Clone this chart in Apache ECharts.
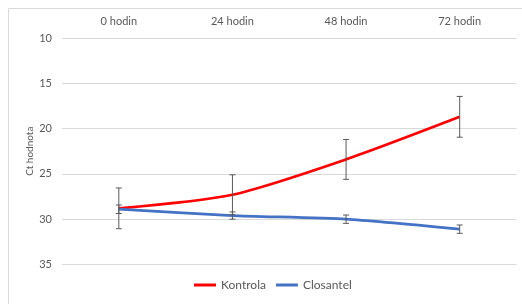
<!DOCTYPE html>
<html>
<head>
<meta charset="utf-8">
<script src="https://cdn.jsdelivr.net/npm/echarts@6/dist/echarts.min.js"></script>
<style>
html,body{margin:0;padding:0;background:#fff;}
#chart{width:522px;height:304px;}
</style>
</head>
<body>
<div id="chart"></div>
<script>
var categories = ['0 hodin', '24 hodin', '48 hodin', '72 hodin'];
var kontrolaValues = [28.8, 27.3, 23.4, 18.7];
var kontrolaErrors = [2.25, 2.2, 2.2, 2.25];
var closantelValues = [28.9, 29.6, 30.0, 31.1];
var closantelErrors = [0.47, 0.4, 0.46, 0.46];
var yTicks = [10, 15, 20, 25, 30, 35];

var FONT = 'Lato, "Open Sans", sans-serif';
var TXT = '#595959';

function errData(vals, errs) {
  return vals.map(function (v, i) { return [i, v - errs[i], v + errs[i]]; });
}
function errRender(params, api) {
  var x = api.value(0);
  var lo = api.coord([x, api.value(1)]);
  var hi = api.coord([x, api.value(2)]);
  var cap = 3;
  var st = { stroke: '#595959', lineWidth: 1 };
  return {
    type: 'group',
    children: [
      { type: 'line', shape: { x1: lo[0], y1: lo[1], x2: hi[0], y2: hi[1] }, style: st },
      { type: 'line', shape: { x1: lo[0] - cap, y1: lo[1], x2: lo[0] + cap, y2: lo[1] }, style: st },
      { type: 'line', shape: { x1: hi[0] - cap, y1: hi[1], x2: hi[0] + cap, y2: hi[1] }, style: st }
    ]
  };
}

var chart = echarts.init(document.getElementById('chart'), null, { renderer: 'canvas' });
chart.setOption({
  animation: false,
  backgroundColor: '#fff',
  graphic: [{
    type: 'rect', silent: true,
    shape: { x: 8.5, y: 8.5, width: 530, height: 310 },
    style: { fill: 'none', stroke: '#d9d9d9', lineWidth: 1 }
  }],
  grid: { left: 62, right: 5.5, top: 38, bottom: 39.5, containLabel: false },
  legend: {
    data: ['Kontrola', 'Closantel'],
    bottom: 8,
    left: 189,
    icon: 'rect',
    itemWidth: 22,
    itemHeight: 3,
    itemGap: 10,
    textStyle: { fontFamily: FONT, fontSize: 12, color: TXT }
  },
  xAxis: {
    type: 'category',
    data: categories,
    position: 'top',
    boundaryGap: true,
    axisLine: { show: false },
    axisTick: { show: false },
    axisLabel: { fontFamily: FONT, fontSize: 11, color: TXT, margin: 11 }
  },
  yAxis: {
    type: 'value',
    inverse: true,
    min: yTicks[0],
    max: yTicks[yTicks.length - 1],
    interval: yTicks[1] - yTicks[0],
    name: 'Ct hodnota',
    nameLocation: 'middle',
    nameGap: 27,
    nameMoveOverlap: false,
    nameTextStyle: { fontFamily: FONT, fontSize: 10, color: TXT },
    axisLine: { show: false },
    axisTick: { show: false },
    axisLabel: { fontFamily: FONT, fontSize: 11, color: TXT, margin: 10 },
    splitLine: { lineStyle: { color: '#d9d9d9', width: 1 } }
  },
  series: [
    {
      name: 'Kontrola', type: 'line', data: kontrolaValues,
      smooth: 0.25, symbol: 'none', z: 3,
      lineStyle: { color: '#ff0000', width: 2.75 },
      itemStyle: { color: '#ff0000' }
    },
    {
      name: 'Closantel', type: 'line', data: closantelValues,
      smooth: 0.2, symbol: 'none', z: 3,
      lineStyle: { color: '#4472c4', width: 2.75 },
      itemStyle: { color: '#4472c4' }
    },
    {
      name: 'Kontrola chyba', type: 'custom', z: 4,
      renderItem: errRender,
      encode: { x: 0, y: [1, 2] },
      data: errData(kontrolaValues, kontrolaErrors)
    },
    {
      name: 'Closantel chyba', type: 'custom', z: 4,
      renderItem: errRender,
      encode: { x: 0, y: [1, 2] },
      data: errData(closantelValues, closantelErrors)
    }
  ]
});
</script>
</body>
</html>
